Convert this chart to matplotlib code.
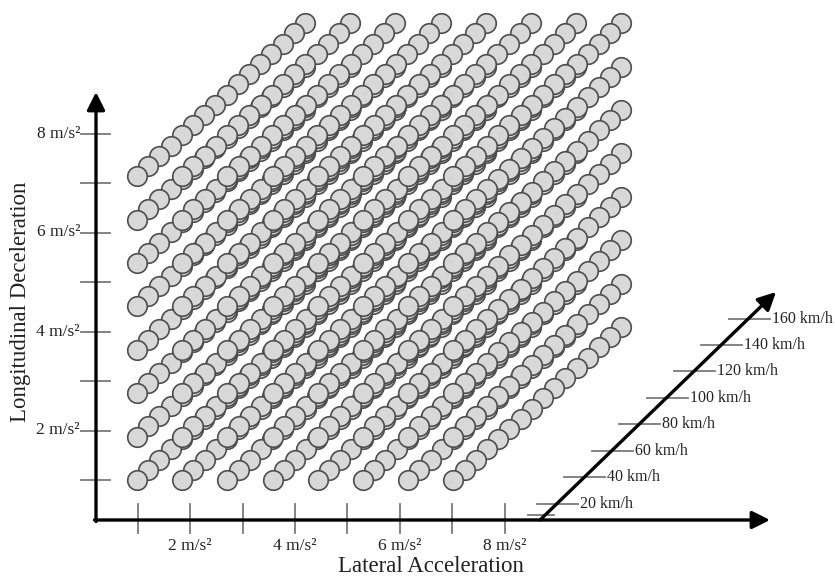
import matplotlib
matplotlib.use("Agg")
import matplotlib.pyplot as plt
import numpy as np

# ---- data ----
lateral = [1, 2, 3, 4, 5, 6, 7, 8]             # m/s^2
longitudinal = [1, 2, 3, 4, 5, 6, 7, 8]        # m/s^2
speeds = [10, 20, 30, 40, 50, 60, 70, 80, 90, 100, 110, 120, 130, 140, 150, 160]  # km/h
x_ticks = [1, 2, 3, 4, 5, 6, 7, 8]
x_tick_labels = {2: "2 m/s²", 4: "4 m/s²", 6: "6 m/s²", 8: "8 m/s²"}
y_ticks = [1, 2, 3, 4, 5, 6, 7, 8]
y_tick_labels = {2: "2 m/s²", 4: "4 m/s²", 6: "6 m/s²", 8: "8 m/s²"}
speed_ticks = [20, 40, 60, 80, 100, 120, 140, 160]
speed_minor = [10]
speed_tick_labels = ["20 km/h", "40 km/h", "60 km/h", "80 km/h",
                     "100 km/h", "120 km/h", "140 km/h", "160 km/h"]

# ---- layout (pixel space of the figure) ----
W, H = 835, 578
fig = plt.figure(figsize=(W / 100, H / 100), dpi=100)
ax = fig.add_axes([0, 0, 1, 1])
ax.set_xlim(0, W)
ax.set_ylim(H, 0)
ax.axis("off")

FONT = "Liberation Serif"

def tick_x(v):
    return 85.3 + 52.4 * v

def tick_y(v):
    return 529.5 - 49.5 * v

def circ_pos(lat, lon, spd):
    k = (spd - speeds[0]) / 10.0
    return (137 + (lat - 1) * 45.2 + k * 11.2,
            480 - (lon - 1) * 43.4 - k * 10.2)

SP_START = (540, 520)
SP_END = (776, 292)

def speed_y(s):
    return 503.5 - (s - 20) * 1.3214

def speed_x(s):
    y = speed_y(s)
    return SP_START[0] + (SP_START[1] - y) * (SP_END[0] - SP_START[0]) / (SP_START[1] - SP_END[1])

# ---- circles (higher speed drawn first, so low speed is in front) ----
xs, ys = [], []
for spd in sorted(speeds, reverse=True):
    for lon in sorted(longitudinal, reverse=True):
        for lat in lateral:
            x, y = circ_pos(lat, lon, spd)
            xs.append(x)
            ys.append(y)
ax.scatter(xs, ys, s=198, facecolor="#d8d8d8", edgecolor="#4d4d4d",
           linewidths=1.2, zorder=3)

# ---- axes ticks ----
tick_col = "#7a7a7a"
for v in x_ticks:
    ax.plot([tick_x(v), tick_x(v)], [504, 533], color=tick_col, lw=1.3, zorder=2)
    if v in x_tick_labels:
        ax.text(tick_x(v), 546, x_tick_labels[v], ha="center", va="center",
                fontsize=12.5, family=FONT, color="#222222")
for v in y_ticks:
    ax.plot([81, 110], [tick_y(v), tick_y(v)], color=tick_col, lw=1.3, zorder=2)
    if v in y_tick_labels:
        ax.text(80, tick_y(v), y_tick_labels[v], ha="right", va="center",
                fontsize=12.5, family=FONT, color="#222222")

# ---- main arrows ----
arrow_kw = dict(arrowstyle="-|>,head_length=0.9,head_width=0.45", color="black",
                lw=2.4, shrinkA=0, shrinkB=0, mutation_scale=12)
ax.annotate("", xy=(96, 92), xytext=(96, 521.5), arrowprops=arrow_kw, zorder=4)
ax.annotate("", xy=(770, 520), xytext=(94.5, 520), arrowprops=arrow_kw, zorder=4)
ax.annotate("", xy=SP_END, xytext=SP_START, arrowprops=arrow_kw, zorder=4)

# ---- speed axis ticks ----
for s, lab in zip(speed_ticks, speed_tick_labels):
    cx, cy = speed_x(s), speed_y(s)
    ax.plot([cx - 20, cx + 21], [cy, cy], color=tick_col, lw=1.3, zorder=2)
    ax.text(cx + 23, cy, lab, ha="left", va="center", fontsize=11.5,
            family=FONT, color="#222222")
for s in speed_minor:
    cx, cy = speed_x(s) - 2, speed_y(s) - 1.5
    ax.plot([cx - 13, cx + 13], [cy, cy], color=tick_col, lw=1.3, zorder=2)

# ---- axis titles ----
ax.text(431, 567, "Lateral Acceleration", ha="center", va="center",
        fontsize=16.5, family=FONT, color="#222222")
ax.text(21, 302, "Longitudinal Deceleration", ha="center", va="center",
        rotation=90, fontsize=16.5, family=FONT, color="#222222")

fig.savefig("out.png", dpi=100)
